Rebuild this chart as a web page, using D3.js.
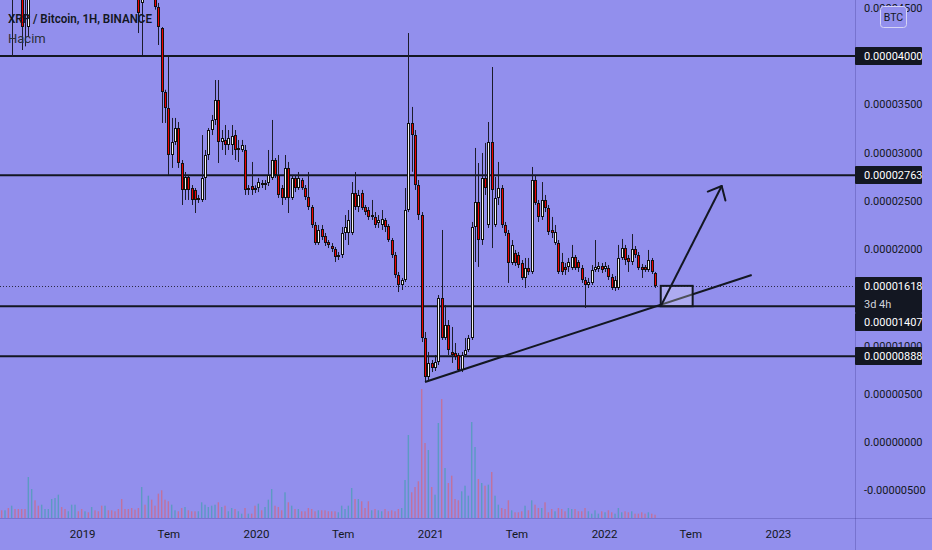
<!DOCTYPE html>
<html><head><meta charset="utf-8">
<script src="https://cdn.jsdelivr.net/npm/d3@7"></script>
<style>html,body{margin:0;padding:0;background:#928fed;overflow:hidden}svg{display:block}</style>
</head><body><svg id="c" width="932" height="550"></svg>
<script>
// prices in satoshi (1e-8 BTC), one candle per week
const firstWeek = "2018-07-16";
const open = [
6800,6200,6500,4700,5000,4750,4700,4750,4301,4700,
8500,7800,7200,7500,7700,7800,7900,8100,8400,7900,
7500,8200,9000,9500,9000,8800,9100,8700,8900,8400,
7900,7800,7900,7700,7500,7400,6900,6200,5700,5400,
5000,4700,4550,4800,4650,4800,4620,4508,4290,3627,
3461,2974,3109,3254,2891,2612,2746,2632,2612,2508,
2508,2736,2974,3233,3337,3544,3109,3130,3078,3078,
3181,3026,3026,3026,2612,2653,2632,2632,2684,2663,
2684,2736,2922,2767,2632,2529,2840,2529,2736,2632,
2715,2632,2539,2435,2249,2062,2207,2135,2073,2031,
2000,1917,1938,2166,2166,2166,2580,2435,2580,2435,
2404,2332,2332,2270,2249,2301,2238,2093,1938,1731,
1627,1679,2404,3306,3181,2663,2352,1078,674,819,
767,829,1492,1078,1212,933,922,902,746,902,
953,1078,2228,2487,2093,2736,2249,3109,2249,2529,
2632,2249,2166,1855,1959,1938,1855,1700,1803,1762,
2715,2477,2332,2508,2425,2197,2062,2062,1865,1814,
1814,1803,1917,1865,1803,1679,1627,1648,1782,1793,
1824,1793,1803,1710,1596,1596,1907,2010,1907,1865,
2000,1938,1814,1814,1782,1886,1751];
const high = [
7000,6800,6600,5300,5200,4900,4800,4800,4900,9000,
9100,8000,7800,7900,8000,8100,8300,8600,8600,8000,
8500,9200,9800,9700,9200,9300,9200,9100,9000,8500,
8000,8100,8000,7800,7600,7500,7000,6300,5900,5700,
5200,4800,5100,4900,4900,4850,4700,4550,4300,3650,
3990,3358,3358,3316,2922,2798,2767,2663,2632,2560,
3181,3026,3254,3389,3751,3751,3233,3285,3233,3285,
3233,3130,3130,3078,2663,2902,2660,2736,2715,2715,
3026,3337,2943,2974,2663,2974,2902,2767,2767,2798,
2736,2663,2798,2456,2280,2249,2249,2166,2093,2062,
2021,1969,2228,2352,2404,2694,2798,2612,2612,2456,
2435,2508,2383,2352,2404,2321,2259,2114,1969,1762,
1700,2632,4238,3472,3233,2715,2383,1140,933,850,
902,1523,2197,1420,1264,1192,1026,922,933,1078,
1109,2280,3047,2891,2995,3099,3316,3886,2746,2902,
2663,2280,2197,2093,1990,1969,1886,1907,1907,2850,
2767,2508,2694,2560,2456,2332,2249,2093,1959,1855,
1907,2042,1938,1886,1834,1710,1700,1834,2093,1865,
1855,1865,1834,1741,1720,2042,2104,2042,1938,2155,
2031,1969,1845,1834,1990,1907,1762];
const low = [
6300,6000,5400,3990,4700,4650,4062,4100,4200,4650,
7500,7000,7000,7300,7400,7500,7700,7900,7700,7200,
7400,8000,8800,8800,8600,8700,8500,8500,8300,7800,
7700,7600,7600,7400,7300,6800,6100,5500,5200,4900,
4650,4238,4010,4600,4620,4600,4480,4114,3306,3306,
2767,2840,3078,2840,2456,2508,2508,2456,2373,2477,
2487,2508,2922,3181,3285,2891,3026,2974,3026,2974,
2922,2902,3005,2560,2560,2560,2580,2590,2632,2612,
2653,2715,2736,2529,2456,2508,2373,2508,2590,2612,
2612,2508,2404,2218,2042,2042,2093,2031,2010,1969,
1865,1886,1907,2093,2042,2145,2404,2383,2404,2352,
2301,2301,2218,2218,2197,2176,2073,1907,1700,1554,
1575,1658,2383,2800,2612,2301,1036,622,643,725,
736,798,1057,1057,902,819,850,725,725,881,
933,1057,1865,1814,2042,2560,2218,2010,2228,2456,
2218,2135,1648,1834,1824,1803,1679,1596,1731,1741,
2456,2280,2301,2383,2145,2114,2042,1741,1731,1731,
1762,1782,1782,1762,1648,1389,1596,1627,1762,1762,
1751,1762,1679,1575,1565,1575,1886,1834,1762,1834,
1907,1782,1700,1762,1762,1741,1596];
const close = [
6400,6500,5500,5000,4750,4700,4301,4600,4700,8500,
7800,7200,7500,7700,7800,7900,8100,8400,7900,7500,
8200,9000,9500,9000,8800,9100,8700,8900,8400,7900,
7800,7900,7700,7500,7400,6900,6200,5700,5400,5000,
4700,4446,4800,4650,4800,4620,4508,4301,3627,3461,
2974,3109,3254,2891,2612,2746,2612,2508,2508,2529,
2736,2974,3233,3337,3544,3109,3150,3078,3150,3171,
3026,3047,3078,2612,2632,2612,2612,2694,2663,2684,
2767,2922,2767,2560,2529,2840,2529,2736,2632,2736,
2632,2539,2435,2249,2062,2197,2124,2062,2042,2000,
1917,1938,2166,2228,2301,2580,2435,2560,2425,2383,
2332,2352,2249,2301,2311,2228,2093,1938,1731,1627,
1679,2404,3306,3181,2663,2352,1078,674,819,767,
829,1492,1078,1212,953,902,881,746,902,953,
1078,2228,2487,2093,2736,2632,3109,2612,2529,2632,
2249,2166,1855,2042,1855,1834,1700,1803,1762,2715,
2477,2332,2508,2425,2176,2166,2176,1762,1762,1782,
1865,1917,1803,1803,1679,1627,1658,1782,1814,1824,
1782,1824,1710,1596,1679,1907,2010,1886,1865,2000,
1938,1803,1782,1782,1886,1762,1618];
const volume = [
7.7,7.7,10,12.3,9,9,9,9,41,29,
17.7,12.3,13.3,9,9,19,20,23.3,11,9,
6.7,13.3,13.3,6.7,9,6.7,5.7,11,7.7,6.7,
12.3,12.3,7.7,7.7,6.7,9,19,9,9,10,
8.3,10,31,13.3,22.3,18.3,12.3,24.3,27.7,18.3,
16.7,13.3,7.7,6.7,10,11,7.7,6.7,6.7,6.7,
15.7,13.3,11,12.3,13.3,15.7,11,12.3,6.7,10,
9,6.7,4.3,10,4.3,4.3,12.3,14.3,7.7,11,
18.3,29,12.3,11,7.7,25.7,15.7,12.3,9,9,
6.7,6.7,10,9,6.7,7.7,7.7,7.7,6.7,6.7,
6.7,5.7,12.3,9,12.3,30,19,19,16.7,10,
16.7,7.7,9,7.7,6.7,9,6.7,7.7,6.7,9,
10,38,83,25.7,31,36.7,129,75,68,31,
23.3,95,119,50,35,42.3,19,17.7,26.7,32.3,
22.3,96,71,39,35,32.3,33.3,46,22.3,13.3,
10,9,17.7,7.7,5.7,5.7,6.7,12.3,7.7,17.7,
13.3,10,10,15.7,5.7,9,6.7,10,9,6.7,
10,9,9,6.7,6.7,10,6.7,4.3,7.7,4.3,
6.7,5.7,7.7,5.7,4.3,10,5.7,6.7,5.7,6.7,
4.3,4.3,5.7,4.3,5.7,4.3,3.3];

const levels = [4000, 2763, 1407, 888];
const lastPrice = 1618;
const countdown = "3d 4h";
// 0.00001500 lies fully under the last-price box in the reference, so it is not listed
const priceTicks = [-500,0,500,1000,2000,2500,3000,3500,4000,4500];
const timeTicks = ["2019-01-01","2019-07-01","2020-01-01","2020-07-01","2021-01-01","2021-07-01","2022-01-01","2022-07-01","2023-01-01"];
const midYearLabel = "Tem";
const trendLine = [["2020-12-21", 622], ["2022-11-07", 1731]];
const arrowLine = [["2022-04-30", 1407], ["2022-09-05", 2653]];
const boxZone = [["2022-04-30", 1618], ["2022-07-06", 1407]];
const title = "XRP / Bitcoin, 1H, BINANCE";
const volTitle = "Hacim";
const currency = "BTC";

const parse = d3.timeParse("%Y-%m-%d");
const W = 932, H = 550, plotR = 855, plotB = 518;
const bg = "#928fed", ink = "#131722";
const svg = d3.select("#c");
svg.append("rect").attr("width", W).attr("height", H).attr("fill", bg);

const t0 = parse(firstWeek);
const dates = open.map((_, i) => d3.timeDay.offset(t0, 7 * i));
const x = d3.scaleTime().domain([t0, parse("2023-01-01")]).range([1.67, 777.9]);
const y = d3.scaleLinear().domain([-500, 4500]).range([490.25, 7.75]);
const vy = d3.scaleLinear().domain([0, 129]).range([plotB, 389]);
const fmt = v => (v / 1e8).toFixed(8);

const plot = svg.append("g");
plot.append("clipPath").attr("id", "clip").append("rect").attr("width", plotR).attr("height", plotB);
const g = plot.append("g").attr("clip-path", "url(#clip)");

// volume
g.append("g").selectAll("rect").data(volume).join("rect")
  .attr("x", (d, i) => x(dates[i]) - 0.7).attr("width", 1.4)
  .attr("y", d => vy(d)).attr("height", d => plotB - vy(d))
  .attr("fill", (d, i) => close[i] >= open[i] ? "rgba(38,166,154,0.5)" : "rgba(239,83,80,0.5)");

// level lines
g.append("g").selectAll("line").data(levels).join("line")
  .attr("x1", 0).attr("x2", plotR).attr("y1", d => y(d)).attr("y2", d => y(d))
  .attr("stroke", ink).attr("stroke-width", 2);

// last price dotted line
g.append("line").attr("x1", 0).attr("x2", plotR)
  .attr("y1", Math.round(y(lastPrice)) + 0.5).attr("y2", Math.round(y(lastPrice)) + 0.5)
  .attr("stroke", "#2a2a44").attr("stroke-width", 1).attr("stroke-dasharray", "1,2");

// candles
const cg = g.append("g");
open.forEach((o, i) => {
  const c = close[i];
  const px = Math.round(x(dates[i]));
  cg.append("line").attr("x1", px + 0.5).attr("x2", px + 0.5)
    .attr("y1", y(high[i])).attr("y2", y(low[i])).attr("stroke", "#1c1c2c").attr("stroke-width", 1);
  const top = Math.round(y(Math.max(o, c))), bot = Math.round(y(Math.min(o, c)));
  const h = Math.max(1, bot - top);
  cg.append("rect").attr("x", px - 1).attr("y", top).attr("width", 3).attr("height", h).attr("fill", "#111");
  if (h > 2) cg.append("rect").attr("x", px).attr("y", top + 1).attr("width", 1).attr("height", h - 2)
    .attr("fill", c >= o ? "#f4f4f4" : "#ee0000");
});

// drawings
const pt = d => [x(parse(d[0])), y(d[1])];
const tl = trendLine.map(pt);
g.append("line").attr("x1", tl[0][0]).attr("y1", tl[0][1]).attr("x2", tl[1][0]).attr("y2", tl[1][1])
  .attr("stroke", ink).attr("stroke-width", 2);
const bz = boxZone.map(pt);
g.append("rect").attr("x", bz[0][0]).attr("y", bz[0][1]).attr("width", bz[1][0] - bz[0][0]).attr("height", bz[1][1] - bz[0][1])
  .attr("fill", "rgba(255,255,255,0.25)").attr("stroke", ink).attr("stroke-width", 2);
const al = arrowLine.map(pt);
g.append("line").attr("x1", al[0][0]).attr("y1", al[0][1]).attr("x2", al[1][0]).attr("y2", al[1][1])
  .attr("stroke", ink).attr("stroke-width", 2);
const ang = Math.atan2(al[0][1] - al[1][1], al[0][0] - al[1][0]);
[-0.72, 0.72].forEach(da => {
  g.append("line").attr("x1", al[1][0]).attr("y1", al[1][1])
    .attr("x2", al[1][0] + 15 * Math.cos(ang + da)).attr("y2", al[1][1] + 15 * Math.sin(ang + da))
    .attr("stroke", ink).attr("stroke-width", 2).attr("stroke-linecap", "round");
});

// separators
svg.append("line").attr("x1", plotR + 0.5).attr("x2", plotR + 0.5).attr("y1", 0).attr("y2", H)
  .attr("stroke", "rgba(40,30,120,0.25)");
svg.append("line").attr("x1", 0).attr("x2", W).attr("y1", plotB + 0.5).attr("y2", plotB + 0.5)
  .attr("stroke", "rgba(40,30,120,0.25)");

const font = "Roboto, 'Liberation Sans', sans-serif";
// price axis
const ya = svg.append("g").attr("transform", `translate(${plotR},0)`)
  .call(d3.axisRight(y).tickValues(priceTicks).tickFormat(fmt).tickSize(0).tickPadding(9));
ya.select(".domain").remove();
ya.selectAll("text").attr("fill", ink).attr("font-family", font).attr("font-size", 11);

// time axis
const xa = svg.append("g").attr("transform", `translate(0,${plotB})`)
  .call(d3.axisBottom(x).tickValues(timeTicks.map(parse)).tickSize(0).tickPadding(12)
    .tickFormat(d => d.getMonth() === 0 ? d3.timeFormat("%Y")(d) : midYearLabel));
xa.select(".domain").remove();
xa.selectAll("text").attr("fill", ink).attr("font-family", font).attr("font-size", 11.5);

// BTC badge
svg.append("rect").attr("x", 880.5).attr("y", 6.5).attr("width", 26).attr("height", 21).attr("rx", 3)
  .attr("fill", bg).attr("stroke", "#d6d4f4");
svg.append("text").attr("x", 893.5).attr("y", 17).attr("text-anchor", "middle").attr("dominant-baseline", "central")
  .attr("font-family", font).attr("font-size", 10.5).attr("fill", ink).text(currency);

// price label boxes
const items = levels.map(v => ({ v })).concat([{ v: lastPrice, extra: countdown }])
  .sort((a, b) => y(a.v) - y(b.v));
let prevBottom = -1e9;
items.forEach(it => {
  const hgt = it.extra ? 36 : 18;
  let top = Math.round(y(it.v) - 9);
  if (top < prevBottom) top = prevBottom;
  prevBottom = top + hgt;
  svg.append("rect").attr("x", plotR).attr("y", top).attr("width", 67).attr("height", hgt).attr("rx", 1).attr("fill", ink);
  svg.append("text").attr("x", 864).attr("y", top + 9.5).attr("dominant-baseline", "central")
    .attr("font-family", font).attr("font-size", 11).attr("fill", "#fff").text(fmt(it.v));
  if (it.extra) svg.append("text").attr("x", 864).attr("y", top + 27).attr("dominant-baseline", "central")
    .attr("font-family", font).attr("font-size", 11).attr("fill", "#d1d4dc").text(it.extra);
});

// legend
svg.append("text").attr("x", 8).attr("y", 23).attr("font-family", font).attr("font-size", 13.5)
  .attr("font-weight", 600).attr("fill", ink).attr("textLength", 144).attr("lengthAdjust", "spacingAndGlyphs").text(title);
svg.append("text").attr("x", 8).attr("y", 43).attr("font-family", font).attr("font-size", 13)
  .attr("fill", "#2a2e39").text(volTitle);
</script></body></html>
